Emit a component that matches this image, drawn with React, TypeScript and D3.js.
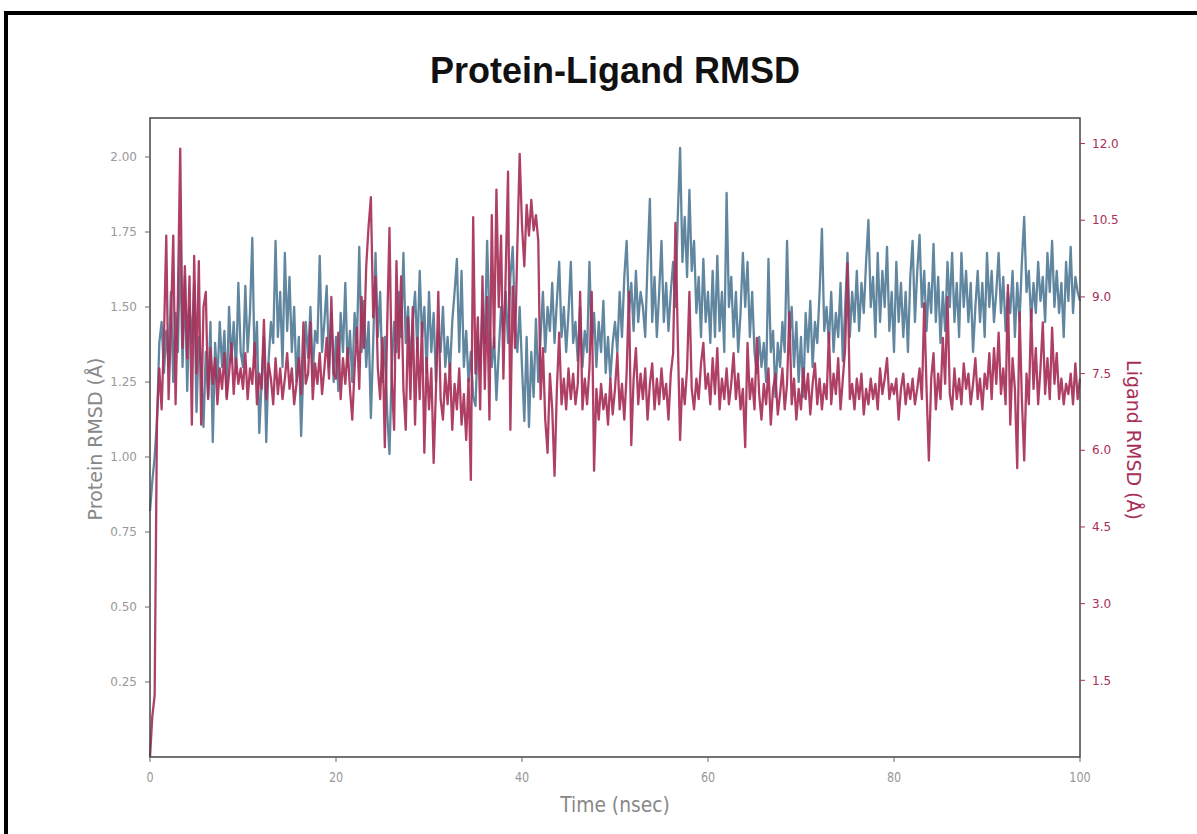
import React from "react";
import * as d3 from "d3";

// sampled every 0.25 ns, 0..100 ns
const timeStep = 0.25;

// protein backbone RMSD (Å), left axis
const proteinRmsd = [
  0.82, 0.92, 1.00, 1.12, 1.38, 1.45, 1.28, 1.42,
  1.30, 1.55, 1.25, 1.48, 1.35, 1.72, 1.30, 1.60,
  1.22, 1.50, 1.38, 1.58, 1.15, 1.40, 1.30, 1.10,
  1.35, 1.20, 1.45, 1.05, 1.38, 1.25, 1.45, 1.30,
  1.42, 1.20, 1.50, 1.32, 1.45, 1.28, 1.58, 1.35,
  1.30, 1.57, 1.35, 1.48, 1.73, 1.30, 1.45, 1.08,
  1.25, 1.40, 1.05, 1.32, 1.45, 1.38, 1.72, 1.40,
  1.55, 1.30, 1.68, 1.42, 1.60, 1.35, 1.50, 1.25,
  1.40, 1.07, 1.30, 1.45, 1.33, 1.50, 1.28, 1.42,
  1.38, 1.67, 1.35, 1.45, 1.57, 1.30, 1.48, 1.25,
  1.40, 1.22, 1.48, 1.35, 1.58, 1.30, 1.42, 1.25,
  1.48, 1.38, 1.70, 1.35, 1.52, 1.30, 1.45, 1.13,
  1.38, 1.68, 1.40, 1.55, 1.25, 1.40, 1.15, 1.01,
  1.30, 1.45, 1.35, 1.55, 1.40, 1.68, 1.38, 1.50,
  1.30, 1.45, 1.55, 1.35, 1.62, 1.40, 1.50, 1.28,
  1.55, 1.35, 1.48, 1.25, 1.42, 1.35, 1.50, 1.30,
  1.40, 1.28, 1.45, 1.55, 1.66, 1.35, 1.62, 1.30,
  1.42, 1.25, 1.35, 1.20, 1.17, 1.40, 1.30, 1.50,
  1.38, 1.72, 1.45, 1.30, 1.40, 1.19, 1.35, 1.50,
  1.42, 1.55, 1.38, 1.60, 1.70, 1.45, 1.35, 1.50,
  1.30, 1.12, 1.40, 1.10, 1.35, 1.20, 1.46, 1.25,
  1.40, 1.55, 1.35, 1.50, 1.42, 1.58, 1.38, 1.52,
  1.65, 1.40, 1.50, 1.35, 1.48, 1.65, 1.38, 1.45,
  1.32, 1.50, 1.30, 1.42, 1.35, 1.65, 1.38, 1.48,
  1.30, 1.45, 1.35, 1.52, 1.28, 1.40, 1.26, 1.38,
  1.45, 1.35, 1.55, 1.40, 1.60, 1.72, 1.48, 1.58,
  1.42, 1.62, 1.45, 1.55, 1.50, 1.40, 1.65, 1.86,
  1.45, 1.60, 1.40, 1.55, 1.72, 1.45, 1.58, 1.42,
  1.55, 1.65, 1.50, 1.80, 2.03, 1.65, 1.80, 1.60,
  1.89, 1.62, 1.72, 1.48, 1.60, 1.40, 1.66, 1.45,
  1.55, 1.38, 1.62, 1.40, 1.67, 1.42, 1.55, 1.35,
  1.88, 1.50, 1.60, 1.40, 1.55, 1.35, 1.48, 1.68,
  1.50, 1.65, 1.40, 1.55, 1.35, 1.28, 1.40, 1.30,
  1.38, 1.25, 1.66, 1.35, 1.42, 1.20, 1.38, 1.30,
  1.45, 1.35, 1.72, 1.40, 1.50, 1.30, 1.45, 1.25,
  1.40, 1.20, 1.48, 1.35, 1.52, 1.30, 1.45, 1.38,
  1.55, 1.76, 1.42, 1.50, 1.38, 1.55, 1.35, 1.48,
  1.40, 1.58, 1.32, 1.50, 1.68, 1.40, 1.55, 1.45,
  1.62, 1.42, 1.58, 1.48, 1.65, 1.79, 1.50, 1.60,
  1.40, 1.68, 1.45, 1.62, 1.50, 1.70, 1.42, 1.55,
  1.35, 1.65, 1.45, 1.58, 1.40, 1.55, 1.35, 1.60,
  1.72, 1.45, 1.62, 1.74, 1.50, 1.62, 1.42, 1.58,
  1.48, 1.71, 1.45, 1.60, 1.38, 1.55, 1.42, 1.65,
  1.50, 1.68, 1.45, 1.58, 1.40, 1.68, 1.50, 1.62,
  1.45, 1.58, 1.35, 1.50, 1.62, 1.45, 1.58, 1.40,
  1.68, 1.50, 1.62, 1.45, 1.55, 1.68, 1.48, 1.60,
  1.42, 1.55, 1.48, 1.62, 1.40, 1.58, 1.45, 1.65,
  1.80, 1.55, 1.62, 1.45, 1.58, 1.48, 1.65, 1.52,
  1.60, 1.45, 1.68, 1.55, 1.72, 1.50, 1.62, 1.48,
  1.58, 1.40, 1.65, 1.52, 1.70, 1.48, 1.60, 1.55,
  1.52,
];

// ligand RMSD (Å), right axis
const ligandRmsd = [
  0.0, 0.8, 1.2, 6.6, 7.6, 6.8, 8.2, 10.2,
  7.0, 8.5, 10.2, 6.9, 9.0, 11.9, 8.0, 9.6,
  7.8, 9.4, 6.5, 9.8, 7.5, 9.7, 6.5, 8.8,
  9.1, 7.0, 8.0, 7.3, 7.8, 6.9, 7.6, 7.2,
  7.9, 7.0, 7.5, 8.1, 7.1, 7.8, 7.3, 7.6,
  7.2, 7.9, 7.0, 7.6, 7.3, 8.1, 6.9, 7.5,
  7.2, 8.55, 7.0, 7.7, 7.4, 6.9, 7.8, 7.1,
  7.6, 7.0, 7.4, 7.9, 7.2, 7.6, 6.9, 7.3,
  7.8, 7.1, 8.5, 7.3, 7.5, 8.5, 7.0, 7.7,
  7.3, 7.9, 7.1, 7.6, 8.2, 7.4, 9.0, 7.5,
  7.4, 8.3, 7.0, 7.8, 7.3, 8.0, 7.2, 6.6,
  7.6, 8.4, 7.2, 9.0, 8.0, 9.6, 10.37, 10.95,
  8.6, 9.4, 7.6, 7.0, 8.2, 6.06, 8.4, 10.35,
  7.4, 6.4, 9.7, 7.8, 9.4, 7.2, 6.4, 8.6,
  7.0, 8.8, 6.5, 8.2, 7.0, 8.5, 5.95, 7.8,
  6.8, 7.6, 5.75, 7.2, 9.1, 7.0, 6.6, 7.5,
  6.9, 7.7, 6.4, 7.3, 6.8, 7.6, 6.5, 7.1,
  6.2, 7.4, 5.42, 10.56, 7.5, 8.6, 6.8, 9.4,
  7.2, 9.0, 6.6, 10.6, 8.0, 11.1, 8.8, 10.2,
  7.4, 9.5, 11.45, 6.4, 9.2, 8.0, 10.0, 11.8,
  10.4, 9.6, 10.8, 10.2, 10.9, 10.3, 10.6, 10.1,
  7.0, 8.0, 6.6, 5.95, 7.5, 6.8, 5.5, 7.2,
  8.3, 6.9, 7.4, 6.8, 7.6, 7.0, 7.5, 6.9,
  7.3, 9.1, 6.8, 7.4, 6.9, 7.6, 9.1, 5.6,
  7.2, 6.6, 7.3, 6.8, 7.1, 6.5, 7.4, 6.7,
  7.2, 7.9, 6.8, 7.3, 6.6, 7.5, 9.1, 6.1,
  7.4, 8.0, 6.9, 7.5, 7.0, 7.6, 6.6, 7.3,
  7.7, 6.8, 7.4, 6.9, 7.6, 7.0, 7.3, 6.6,
  7.5, 7.9, 10.45, 8.2, 6.2, 7.4, 6.9, 7.6,
  9.1, 7.2, 6.8, 7.4, 7.0, 7.7, 8.1, 7.2,
  7.5, 6.9, 7.8, 7.1, 8.0, 6.8, 7.4, 7.0,
  7.6, 6.9, 7.3, 7.9, 7.0, 7.5, 6.8, 7.2,
  6.06, 8.1, 7.0, 7.4, 6.8, 8.2, 7.1, 6.6,
  7.3, 6.9, 7.6, 6.5, 7.2, 7.5, 6.7, 7.1,
  7.6, 6.8, 7.3, 8.7, 6.9, 7.4, 6.6, 7.2,
  6.8, 7.6, 7.0, 7.5, 6.7, 7.3, 7.7, 6.9,
  7.4, 6.8, 7.3, 7.0, 8.3, 6.9, 7.5, 7.1,
  7.8, 6.8, 7.4, 8.0, 9.66, 7.0, 7.3, 6.8,
  7.4, 7.0, 7.5, 6.7, 7.2, 6.9, 7.4, 7.0,
  7.3, 6.8, 7.6, 7.1, 7.4, 7.8, 7.0, 7.3,
  7.1, 7.4, 6.6, 7.2, 7.5, 6.9, 7.3, 7.0,
  7.4, 6.9, 7.2, 7.6, 7.0, 8.88, 7.2, 5.8,
  7.4, 7.9, 6.8, 7.5, 7.0, 8.2, 7.3, 9.0,
  7.1, 6.8, 7.6, 7.0, 7.4, 6.9, 7.7, 7.2,
  7.5, 6.9, 7.3, 7.8, 7.0, 7.4, 6.8, 7.5,
  7.2, 7.9, 7.0, 8.0, 7.3, 8.3, 7.1, 7.6,
  6.9, 9.23, 6.5, 7.8, 7.2, 5.65, 8.7, 7.0,
  5.8, 7.5, 6.9, 8.75, 7.2, 8.0, 6.9, 7.6,
  8.5, 7.1, 7.8, 7.0, 8.4, 7.3, 7.9, 7.0,
  7.4, 6.9, 7.3, 7.1, 7.5, 6.9, 7.7, 7.0,
  7.4,
];

const timeTicks = [0, 20, 40, 60, 80, 100];
const proteinTicks = [0.25, 0.5, 0.75, 1.0, 1.25, 1.5, 1.75, 2.0];
const ligandTicks = [1.5, 3.0, 4.5, 6.0, 7.5, 9.0, 10.5, 12.0];

const W = 1197;
const H = 834;
const left = 150, right = 1080, top = 118, bottom = 757;

const blue = "#58809a";
const red = "#a83058";
const grey = "#999";

export default function App() {
  const x = d3.scaleLinear().domain([0, 100]).range([left, right]);
  const yP = d3.scaleLinear().domain([0, 2.13]).range([bottom, top]);
  const yL = d3.scaleLinear().domain([0, 12.5]).range([bottom, top]);

  const lineP = d3.line<number>().x((_, i) => x(i * timeStep)).y((d) => yP(d));
  const lineL = d3.line<number>().x((_, i) => x(i * timeStep)).y((d) => yL(d));

  const fmtP = d3.format(".2f");
  const fmtL = d3.format(".1f");

  return (
    <svg
      width={W}
      height={H}
      style={{ position: "absolute", left: 0, top: 0, background: "#fff" }}
      fontFamily="DejaVu Sans, sans-serif"
    >
      <rect x={0} y={0} width={W} height={H} fill="#fff" />
      {/* black frame of the screenshot */}
      <line x1={4} y1={13} x2={W} y2={13} stroke="#000" strokeWidth={4} />
      <line x1={6} y1={11} x2={6} y2={H} stroke="#000" strokeWidth={4} />

      <text
        x={615}
        y={83}
        textAnchor="middle"
        fontFamily="Liberation Sans, Arial, sans-serif"
        fontWeight="bold"
        fontSize={37}
        textLength={370}
        lengthAdjust="spacingAndGlyphs"
        fill="#111"
      >
        Protein-Ligand RMSD
      </text>

      <path d={lineP(proteinRmsd) || ""} fill="none" stroke={blue} strokeWidth={2.3} strokeOpacity={0.95} strokeLinejoin="round" />
      <path d={lineL(ligandRmsd) || ""} fill="none" stroke={red} strokeWidth={2.3} strokeOpacity={0.92} strokeLinejoin="round" />

      <rect x={left} y={top} width={right - left} height={bottom - top} fill="none" stroke="#444" strokeWidth={1.5} />

      {proteinTicks.map((t) => (
        <g key={"p" + t}>
          <line x1={left - 5} x2={left} y1={yP(t)} y2={yP(t)} stroke="#666" />
          <text x={137} y={yP(t)} dy="0.35em" textAnchor="end" fontSize={12} fill={grey}>
            {fmtP(t)}
          </text>
        </g>
      ))}

      {ligandTicks.map((t) => (
        <g key={"l" + t}>
          <line x1={right} x2={right + 5} y1={yL(t)} y2={yL(t)} stroke={red} />
          <text x={1092} y={yL(t)} dy="0.35em" textAnchor="start" fontSize={12} fill={red}>
            {fmtL(t)}
          </text>
        </g>
      ))}

      {timeTicks.map((t) => (
        <g key={"t" + t}>
          <line x1={x(t)} x2={x(t)} y1={bottom} y2={bottom + 5} stroke="#666" />
          <text
            transform={`translate(${x(t)},782) scale(0.8,1)`}
            textAnchor="middle"
            fontSize={14}
            fill={grey}
          >
            {t}
          </text>
        </g>
      ))}

      <text transform="translate(615,812) scale(0.85,1)" textAnchor="middle" fontSize={22} fill="#888">
        Time (nsec)
      </text>

      <text
        transform="translate(102,439) rotate(-90)"
        textAnchor="middle"
        fontSize={19}
        fill="#888"
      >
        Protein RMSD (Å)
      </text>

      <text
        transform="translate(1127,440) rotate(90)"
        textAnchor="middle"
        fontSize={19}
        fill={red}
      >
        Ligand RMSD (Å)
      </text>
    </svg>
  );
}
